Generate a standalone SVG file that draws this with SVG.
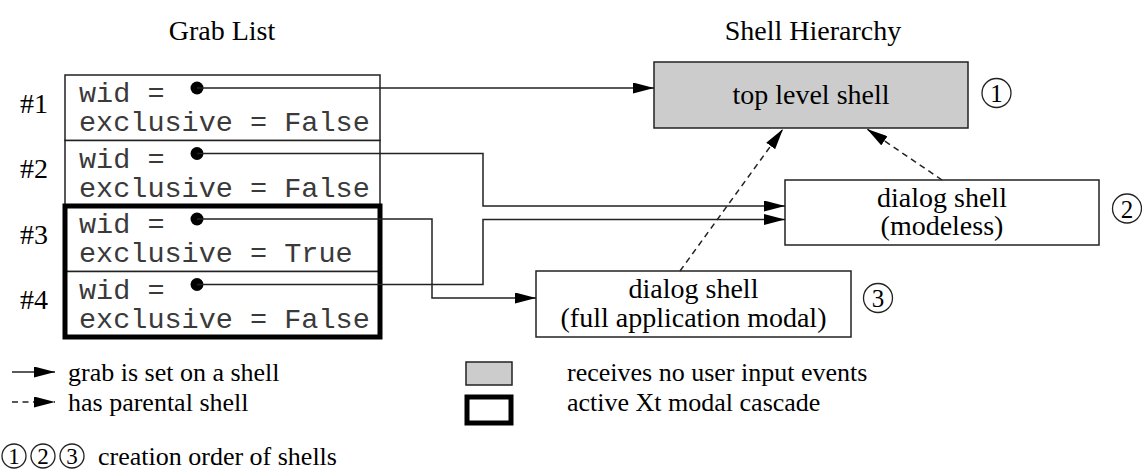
<svg xmlns="http://www.w3.org/2000/svg" width="1142" height="470" viewBox="0 0 1142 470">
  <style>
    .serif { font-family: "Liberation Serif", "Times New Roman", serif; fill: #000; }
    .title { font-size: 28px; text-anchor: middle; }
    .label { font-size: 28px; text-anchor: middle; }
    .legend { font-size: 26px; }
    .idx { font-size: 28px; }
    .mono { font-family: "Liberation Mono", "Courier New", monospace; font-size: 28.5px; fill: #3a3a3a; }
    .box { fill: #fff; stroke: #222; stroke-width: 1.5; }
    .shaded { fill: #cccccc; stroke: #222; stroke-width: 1.5; }
    .thick { fill: none; stroke: #000; stroke-width: 5; }
    .wire { fill: none; stroke: #222; stroke-width: 1.5; }
    .dashed { fill: none; stroke: #222; stroke-width: 1.5; stroke-dasharray: 6 4.5; }
    .dot { fill: #000; }
    .num { fill: none; stroke: #222; stroke-width: 1.3; }
    .digit { font-family: "Liberation Serif", "Times New Roman", serif; font-size: 25px; text-anchor: middle; fill: #000; }
    .digit-sm { font-size: 23px; }
  </style>
  <defs>
    <marker id="arrow" viewBox="0 0 21 11" refX="21" refY="5.5" markerWidth="21" markerHeight="11" markerUnits="userSpaceOnUse" orient="auto">
      <path d="M0,0 L21,5.5 L0,11 Z" fill="#000"/>
    </marker>
  </defs>

  <rect width="1142" height="470" fill="#fff"/>

  <!-- column headings -->
  <text class="serif title" x="222" y="40">Grab List</text>
  <text class="serif title" x="813" y="40">Shell Hierarchy</text>

  <!-- grab list entries -->
  <g id="grab1">
    <text class="serif idx" x="20" y="113">#1</text>
    <rect class="box" x="65" y="75" width="315" height="65.5"/>
    <text class="mono" x="79" y="102">wid =</text>
    <text class="mono" x="79" y="131">exclusive = False</text>
    <circle class="dot" cx="197" cy="88" r="6.5"/>
  </g>
  <g id="grab2">
    <text class="serif idx" x="20" y="178">#2</text>
    <rect class="box" x="65" y="140.5" width="315" height="65.5"/>
    <text class="mono" x="79" y="167.5">wid =</text>
    <text class="mono" x="79" y="196.5">exclusive = False</text>
    <circle class="dot" cx="197" cy="153.5" r="6.5"/>
  </g>
  <g id="grab3">
    <text class="serif idx" x="20" y="244">#3</text>
    <rect class="box" x="65" y="206" width="315" height="65.5"/>
    <text class="mono" x="79" y="233">wid =</text>
    <text class="mono" x="79" y="262">exclusive = True</text>
    <circle class="dot" cx="197" cy="219" r="6.5"/>
  </g>
  <g id="grab4">
    <text class="serif idx" x="20" y="309">#4</text>
    <rect class="box" x="65" y="271.5" width="315" height="65.5"/>
    <text class="mono" x="79" y="298.5">wid =</text>
    <text class="mono" x="79" y="327.5">exclusive = False</text>
    <circle class="dot" cx="197" cy="284.5" r="6.5"/>
  </g>
  <!-- active modal cascade outline around entries 3 and 4 -->
  <rect id="cascade" class="thick" x="65" y="206" width="315" height="131"/>

  <!-- shells -->
  <g id="top-shell">
    <rect class="shaded" x="654" y="62" width="314" height="66"/>
    <text class="serif label" x="811" y="104">top level shell</text>
    <circle class="num" cx="996.5" cy="93" r="14.5"/>
    <text class="digit" x="996.5" y="102">1</text>
  </g>
  <g id="modeless-shell">
    <rect class="box" x="785" y="180" width="314" height="65"/>
    <text class="serif label" x="942" y="207">dialog shell</text>
    <text class="serif label" x="942" y="235">(modeless)</text>
    <circle class="num" cx="1127" cy="208.5" r="14.5"/>
    <text class="digit" x="1127" y="217.5">2</text>
  </g>
  <g id="modal-shell">
    <rect class="box" x="536" y="271" width="315" height="66"/>
    <text class="serif label" x="693.5" y="297.5">dialog shell</text>
    <text class="serif label" x="693.5" y="326.5">(full application modal)</text>
    <circle class="num" cx="878" cy="298" r="14.5"/>
    <text class="digit" x="878" y="307">3</text>
  </g>

  <!-- connectors -->
  <g id="connectors">
    <path class="wire" d="M197,88 H654" marker-end="url(#arrow)"/>
    <path class="wire" d="M197,153.5 H483 V206 H785" marker-end="url(#arrow)"/>
    <path class="wire" d="M197,219 H432 V298 H536" marker-end="url(#arrow)"/>
    <path class="wire" d="M197,284.5 H483 V219.5 H785" marker-end="url(#arrow)"/>
    <path class="dashed" d="M680,271 L783,129" marker-end="url(#arrow)"/>
    <path class="dashed" d="M942,180 L867,129" marker-end="url(#arrow)"/>
  </g>

  <!-- legend -->
  <g id="legend">
    <path class="wire" d="M12,372 H55" marker-end="url(#arrow)"/>
    <text class="serif legend" x="68" y="381">grab is set on a shell</text>
    <path class="dashed" d="M12,402 H55" marker-end="url(#arrow)"/>
    <text class="serif legend" x="68" y="411">has parental shell</text>
    <circle class="num" cx="14" cy="456" r="12"/>
    <text class="digit digit-sm" x="14" y="464">1</text>
    <circle class="num" cx="43" cy="456" r="12"/>
    <text class="digit digit-sm" x="43" y="464">2</text>
    <circle class="num" cx="72" cy="456" r="12"/>
    <text class="digit digit-sm" x="72" y="464">3</text>
    <text class="serif legend" x="98" y="465">creation order of shells</text>

    <rect class="shaded" x="466" y="362" width="46" height="23"/>
    <text class="serif legend" x="567" y="381">receives no user input events</text>
    <rect class="thick" x="467" y="397" width="44" height="26"/>
    <text class="serif legend" x="567" y="411">active Xt modal cascade</text>
  </g>
</svg>
